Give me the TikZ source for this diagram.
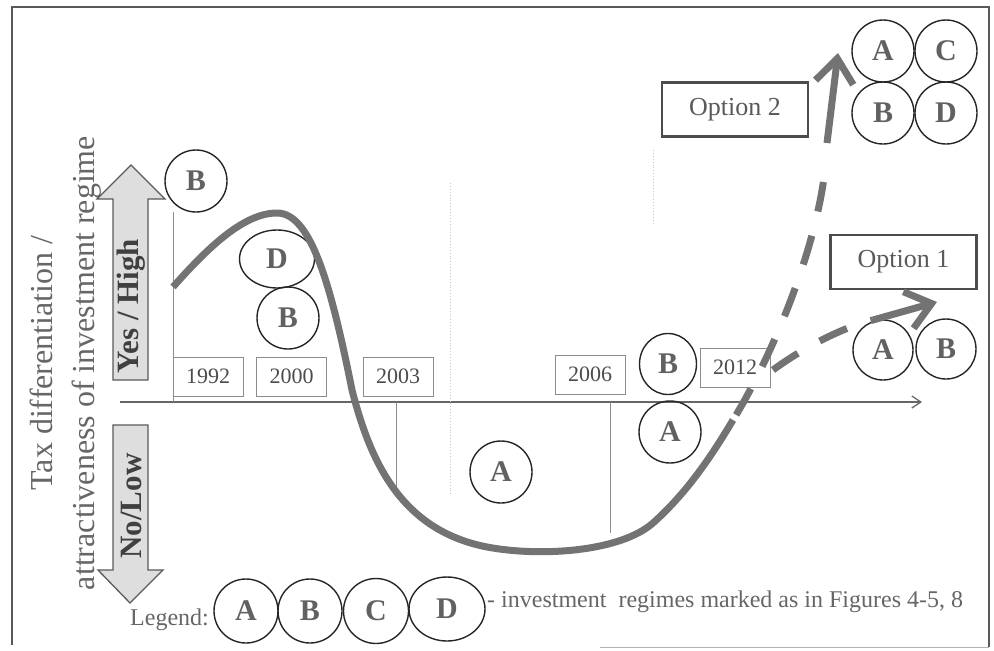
\documentclass[tikz,border=0pt]{standalone}
\usepackage{fontspec}
\setmainfont{Liberation Serif}
\usetikzlibrary{shapes.geometric,arrows.meta}
\begin{document}
\begin{tikzpicture}[x=1pt,y=-1pt,
  regime/.style={circle,draw=black!85,line width=1.4pt,inner sep=0pt,minimum size=62pt,
    font=\fontsize{30}{30}\selectfont\bfseries,text=black!62},
  regimeoval/.style={ellipse,draw=black!85,line width=1.4pt,inner sep=0pt,
    font=\fontsize{30}{30}\selectfont\bfseries,text=black!62},
  yearbox/.style={draw=black!45,fill=white,line width=1pt,minimum width=70pt,minimum height=39pt,
    inner sep=0pt,font=\fontsize{22}{22}\selectfont,text=black!70},
  optbox/.style={draw=black!70,line width=2.6pt,minimum width=146pt,minimum height=54pt,
    inner sep=0pt,font=\fontsize{26}{26}\selectfont,text=black!65},
  frameline/.style={draw=black!65,line width=1.5pt},
  guide/.style={draw=black!45,line width=0.8pt},
  faint/.style={draw=black!22,line width=0.9pt,dotted},
  trend/.style={draw=black!55,line width=7pt},
  optdash/.style={draw=black!55,line width=7pt,dash pattern=on 30pt off 25pt},
  optarrow/.style={draw=black!55,line width=7pt,-{Straight Barb[length=24pt,width=38pt]}},
  bigarrow/.style={draw=black!65,line width=1.3pt,fill=black!13},
  arrowtext/.style={rotate=90,font=\fontsize{31}{31}\selectfont\bfseries,text=black!75,inner sep=0pt},
  plain/.style={font=\fontsize{24}{24}\selectfont,text=black!60,inner sep=0pt}
]
\useasboundingbox (0,0) rectangle (994,651);

% outer frame
\draw[frameline] (12,645) -- (12,7) -- (989,7) -- (989,647);
\draw[draw=black!30,line width=1pt] (600,647) -- (989,647);

% vertical axis label
\node[rotate=90,align=center,font=\fontsize{32}{42}\selectfont,text=black!60] (ylabel) at (66,363)
  {Tax differentiation /\\attractiveness of investment regime};

% Yes / High and No/Low block arrows
\draw[bigarrow] (113,380) -- (113,199) -- (97,199) -- (131,165) -- (165,199) -- (148,199) -- (148,380) -- cycle;
\node[arrowtext] (yes) at (131,306) {Yes / High};
\draw[bigarrow] (113,425) -- (148,425) -- (148,570) -- (163,570) -- (130,603) -- (98,570) -- (113,570) -- cycle;
\node[arrowtext] (no) at (131,506) {No/Low};

% time axis and period guides
\coordinate (axisL) at (120,402);
\coordinate (axisR) at (922,402);
\draw[draw=black!60,line width=1.3pt,-{Straight Barb[length=9pt,width=12pt]}] (axisL) -- (axisR);
\draw[guide] (173,212) -- (173,402);
\draw[guide] (396,402) -- (396,495);
\draw[guide] (610,402) -- (610,533);
\draw[faint] (450,183) -- (450,495);
\draw[faint] (653,150) -- (653,225);

% year labels
\node[yearbox] (y1992) at (208,376.5) {1992};
\node[yearbox] (y2000) at (291.5,376.5) {2000};
\node[yearbox] (y2003) at (398,376.5) {2003};
\node[yearbox] (y2006) at (590,374.5) {2006};
\node[yearbox] (y2012) at (735,367.5) {2012};

% regimes along the timeline
\node[regime] (rB1) at (196,181) {B};
\node[regimeoval,minimum width=75pt,minimum height=58pt] (rD1) at (277,259) {D};
\node[regime] (rB2) at (288,318) {B};
\node[regime] (rA1) at (501,472) {A};
\node[regimeoval,minimum width=57pt,minimum height=61pt] (rB3) at (668,364) {B};
\node[regime] (rA2) at (670,432) {A};

% option boxes and outcome regimes
\node[optbox] (opt2) at (735,109.5) {Option 2};
\node[optbox] (opt1) at (903.5,262) {Option 1};
\node[regime] (o2A) at (883,51) {A};
\node[regime] (o2C) at (946,51) {C};
\node[regime] (o2B) at (883,113) {B};
\node[regime] (o2D) at (946,113) {D};
\node[regime,minimum size=60pt] (o1A) at (883,350) {A};
\node[regime,minimum size=60pt] (o1B) at (946,349) {B};

% legend
\node[plain,anchor=base west] (legend) at (130,625) {Legend:};
\node[regime,minimum size=64pt] (lA) at (246,611) {A};
\node[regime,minimum size=64pt] (lB) at (310,611) {B};
\node[regime,minimum size=65pt] (lC) at (376,611) {C};
\node[regimeoval,minimum width=76pt,minimum height=64pt] (lD) at (447,609) {D};
\node[plain,anchor=base west] (legtext) at (487,607) {- investment\ \ regimes marked as in Figures 4-5, 8};

% trend curve
\coordinate (t0) at (173,287);
\coordinate (t1) at (277,213);
\coordinate (t2) at (352,390);
\coordinate (t3) at (487,547);
\coordinate (t4) at (653,523);
\coordinate (split) at (733,420);
\draw[trend] (t0) .. controls (210,245) and (245,213) .. (t1)
  .. controls (310,213) and (330,280) .. (t2)
  .. controls (370,460) and (400,530) .. (t3)
  .. controls (540,557) and (620,552) .. (t4)
  .. controls (690,490) and (715,450) .. (split);

% option 2 branch
\coordinate (o2end) at (825,170);
\coordinate (o2start) at (827,143);
\coordinate (o2tip) at (838,53);
\draw[optdash,dash phase=49pt] (split) .. controls (770,360) and (815,255) .. (o2end);
\draw[optarrow] (o2start) -- (o2tip);

% option 1 branch
\coordinate (o1start) at (773,370);
\coordinate (o1mid) at (873,320);
\coordinate (o1tip) at (937,302);
\draw[optdash] (o1start) .. controls (800,350) and (840,328) .. (o1mid);
\draw[optarrow] (o1mid) -- (o1tip);
\end{tikzpicture}
\end{document}
